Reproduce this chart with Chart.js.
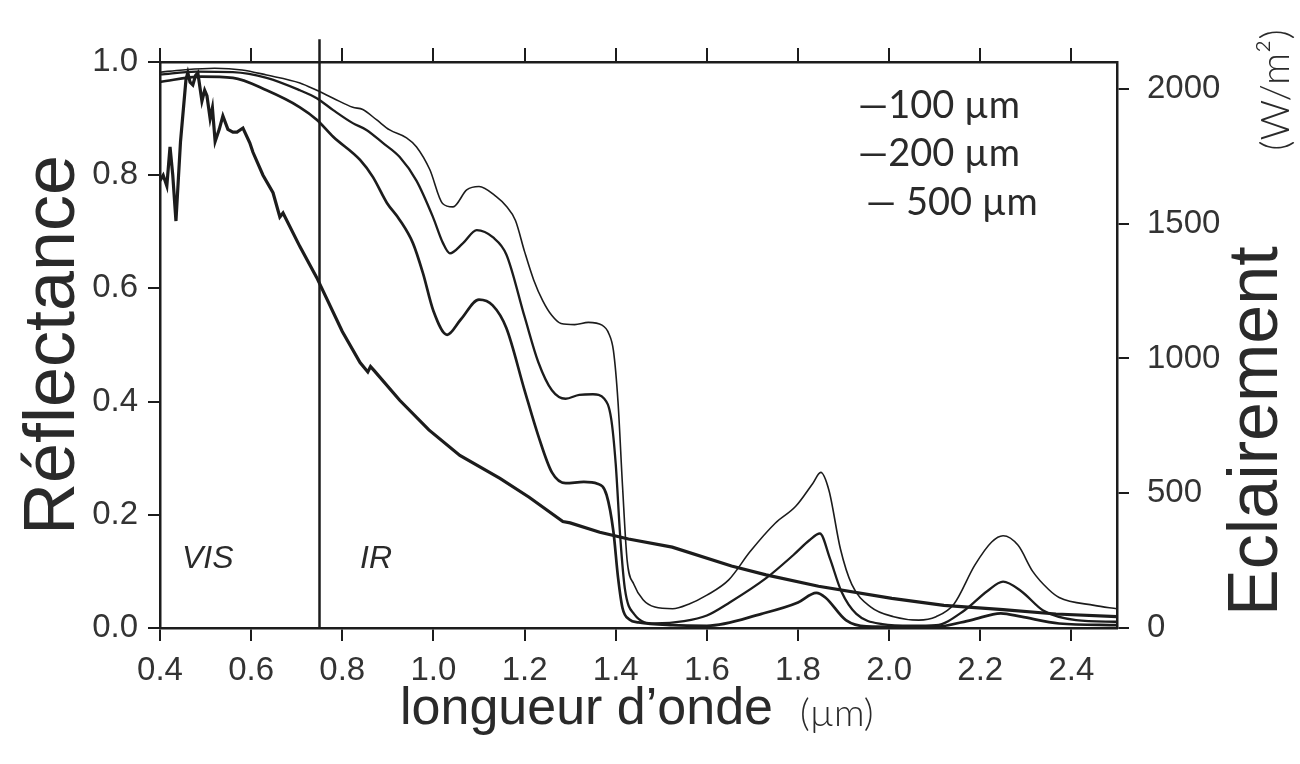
<!DOCTYPE html>
<html>
<head>
<meta charset="utf-8">
<style>
html,body{margin:0;padding:0;background:#fff;}
#wrap{width:1300px;height:764px;position:relative;}
</style>
<script src="https://cdn.jsdelivr.net/npm/chart.js@4.4.1/dist/chart.umd.min.js"></script>
</head>
<body>
<div id="wrap"><canvas id="c" width="1300" height="764"></canvas></div>
<script>
// ---------- data ----------
const xTicks = [0.4, 0.6, 0.8, 1.0, 1.2, 1.4, 1.6, 1.8, 2.0, 2.2, 2.4];
const yLeftTicks = [0, 0.2, 0.4, 0.6, 0.8, 1.0];
const yRightTicks = [0, 500, 1000, 1500, 2000];
const seriesNames = ['100 µm', '200 µm', '500 µm'];
const regionNames = ['VIS', 'IR'];
const boundaryX = 0.75;

const wl100 = [0.40,0.45,0.52,0.58,0.634,0.707,0.744,0.78,0.823,0.845,0.875,0.904,0.941,0.963,0.992,1.02,1.043,1.073,1.10,1.138,1.16,1.18,1.20,1.22,1.24,1.26,1.28,1.31,1.34,1.37,1.385,1.395,1.405,1.415,1.425,1.44,1.46,1.486,1.525,1.56,1.60,1.648,1.695,1.75,1.795,1.832,1.85,1.868,1.893,1.918,1.96,2.01,2.065,2.103,2.142,2.188,2.225,2.25,2.283,2.315,2.35,2.373,2.45,2.50];
const refl100 = [0.982,0.986,0.989,0.986,0.977,0.963,0.95,0.936,0.92,0.916,0.898,0.88,0.866,0.85,0.81,0.75,0.744,0.774,0.78,0.762,0.745,0.72,0.665,0.615,0.578,0.552,0.538,0.536,0.54,0.535,0.52,0.49,0.40,0.25,0.12,0.077,0.05,0.037,0.034,0.042,0.058,0.085,0.135,0.185,0.215,0.255,0.275,0.243,0.14,0.077,0.037,0.02,0.014,0.02,0.042,0.111,0.152,0.163,0.146,0.10,0.068,0.054,0.04,0.034];

const wl200 = [0.40,0.48,0.56,0.634,0.707,0.744,0.78,0.823,0.853,0.889,0.926,0.963,0.999,1.021,1.036,1.065,1.095,1.131,1.16,1.20,1.23,1.26,1.29,1.32,1.35,1.375,1.39,1.40,1.41,1.42,1.44,1.486,1.55,1.60,1.65,1.73,1.79,1.825,1.848,1.87,1.895,1.928,1.985,2.05,2.103,2.165,2.215,2.25,2.29,2.338,2.41,2.50];
const refl200 = [0.978,0.983,0.982,0.972,0.95,0.936,0.915,0.892,0.88,0.857,0.832,0.79,0.726,0.68,0.662,0.68,0.703,0.69,0.66,0.55,0.47,0.42,0.405,0.412,0.413,0.405,0.37,0.29,0.16,0.07,0.025,0.008,0.012,0.022,0.045,0.088,0.129,0.155,0.167,0.123,0.065,0.025,0.007,0.004,0.005,0.031,0.065,0.082,0.065,0.031,0.014,0.011];

const wl500 = [0.40,0.49,0.56,0.634,0.707,0.744,0.78,0.839,0.867,0.898,0.926,0.955,0.977,1.00,1.03,1.06,1.10,1.13,1.16,1.20,1.23,1.26,1.29,1.33,1.36,1.38,1.395,1.405,1.415,1.43,1.45,1.525,1.60,1.72,1.80,1.84,1.86,1.905,1.95,2.10,2.18,2.245,2.29,2.373,2.50];
const refl500 = [0.965,0.974,0.972,0.95,0.92,0.898,0.868,0.827,0.797,0.751,0.721,0.68,0.627,0.56,0.518,0.545,0.58,0.57,0.53,0.42,0.34,0.275,0.256,0.258,0.255,0.235,0.17,0.09,0.035,0.015,0.01,0.005,0.004,0.025,0.045,0.062,0.054,0.014,0.003,0.002,0.014,0.026,0.02,0.008,0.005];

const wlSun = [0.400,0.407,0.415,0.422,0.428,0.435,0.445,0.457,0.461,0.466,0.472,0.478,0.483,0.492,0.498,0.503,0.510,0.515,0.521,0.530,0.538,0.549,0.560,0.569,0.582,0.597,0.604,0.626,0.648,0.663,0.670,0.707,0.744,0.800,0.839,0.856,0.862,0.870,0.926,0.990,1.058,1.146,1.210,1.284,1.300,1.365,1.428,1.524,1.654,1.730,1.845,2.006,2.120,2.250,2.366,2.500];
const irrSun = [1660,1680,1640,1785,1680,1510,1805,2035,2060,2025,2015,2050,2060,1955,1995,1975,1890,1930,1805,1850,1900,1850,1840,1840,1855,1800,1765,1680,1615,1525,1540,1415,1300,1100,985,950,970,955,845,735,640,555,485,395,390,355,330,300,230,197,155,110,84,68,52,42];

// ---------- chart ----------
const INK = '#1c1c1c';
const FONT = '"Liberation Sans", Arial, sans-serif';
const HAND = 'Lato, sans-serif';
const pts = (xs, ys) => xs.map((x, i) => ({x: x, y: ys[i]}));

const textPlugin = {
  id: 'texts',
  afterDraw(chart) {
    const ctx = chart.ctx;
    ctx.save();
    ctx.fillStyle = '#2a2a2a';
    // left title
    ctx.save();
    ctx.translate(54, (chart.chartArea.top + chart.chartArea.bottom) / 2);
    ctx.rotate(-Math.PI / 2);
    ctx.font = '72px ' + FONT;
    ctx.textAlign = 'center';
    ctx.textBaseline = 'middle';
    ctx.fillText('Réflectance', 0, 0);
    ctx.restore();
    // right title
    ctx.save();
    ctx.translate(1258, 616);
    ctx.rotate(-Math.PI / 2);
    ctx.font = '70px ' + FONT;
    ctx.textAlign = 'left';
    ctx.textBaseline = 'middle';
    ctx.fillText('Eclairement', 0, 0);
    ctx.restore();
    ctx.save();
    ctx.translate(1276, 90);
    ctx.rotate(-Math.PI / 2);
    ctx.font = '300 40px ' + HAND;
    ctx.textAlign = 'center';
    ctx.textBaseline = 'middle';
    ctx.fillText('(W/m²)', 0, 0);
    ctx.restore();
    // x title
    ctx.font = '52px ' + FONT;
    ctx.textAlign = 'left';
    ctx.textBaseline = 'alphabetic';
    ctx.fillText('longueur d’onde', 400, 724);
    ctx.font = '300 38px ' + HAND;
    ctx.fillText('(µm)', 800, 726);
    // legend (handwritten style)
    ctx.font = '38px ' + HAND;
    const legY = [118, 166, 215];
    const legX = [858, 858, 866];
    seriesNames.forEach((n, i) => {
      ctx.fillText('—' + (i === 2 ? ' ' : '') + n, legX[i], legY[i]);
    });
    // region labels
    ctx.font = 'italic 32px ' + FONT;
    ctx.fillText(regionNames[0], 182, 568);
    ctx.fillText(regionNames[1], 360, 568);
    ctx.restore();
  }
};

const tickFont = {family: FONT, size: 33};
const gridCommon = {drawOnChartArea: false, drawTicks: true, color: INK, lineWidth: 2};
const borderCommon = {display: true, color: INK, width: 2.5};

new Chart(document.getElementById('c'), {
  type: 'line',
  data: {
    datasets: [
      {label: seriesNames[0], data: pts(wl100, refl100), borderColor: INK, borderWidth: 1.6, pointRadius: 0, cubicInterpolationMode: 'monotone', xAxisID: 'x', yAxisID: 'y'},
      {label: seriesNames[1], data: pts(wl200, refl200), borderColor: INK, borderWidth: 2.3, pointRadius: 0, cubicInterpolationMode: 'monotone', xAxisID: 'x', yAxisID: 'y'},
      {label: seriesNames[2], data: pts(wl500, refl500), borderColor: INK, borderWidth: 2.7, pointRadius: 0, cubicInterpolationMode: 'monotone', xAxisID: 'x', yAxisID: 'y'},
      {label: 'Eclairement', data: pts(wlSun, irrSun), borderColor: INK, borderWidth: 3.2, pointRadius: 0, tension: 0, xAxisID: 'x', yAxisID: 'yR'},
      {label: 'VIS/IR', data: [{x: boundaryX, y: 0}, {x: boundaryX, y: 1.04}], borderColor: INK, borderWidth: 2.5, pointRadius: 0, clip: false, xAxisID: 'x', yAxisID: 'y'}
    ]
  },
  options: {
    responsive: false,
    animation: false,
    devicePixelRatio: 1,
    layout: {padding: 0},
    plugins: {legend: {display: false}, tooltip: {enabled: false}, title: {display: false}},
    scales: {
      x: {
        type: 'linear', position: 'bottom', min: 0.4, max: 2.5,
        afterBuildTicks: s => { s.ticks = xTicks.map(v => ({value: v})); },
        afterFit: s => { s.height = 136; },
        ticks: {callback: v => Number(v).toFixed(1), font: tickFont, color: '#333', padding: 10, maxRotation: 0, autoSkip: false},
        grid: Object.assign({tickLength: 13}, gridCommon),
        border: borderCommon
      },
      xTop: {
        type: 'linear', position: 'top', min: 0.4, max: 2.5,
        afterBuildTicks: s => { s.ticks = xTicks.map(v => ({value: v})); },
        afterFit: s => { s.height = 62; },
        ticks: {display: false},
        grid: Object.assign({tickLength: 14}, gridCommon),
        border: borderCommon
      },
      y: {
        type: 'linear', position: 'left', min: 0, max: 1.0,
        afterBuildTicks: s => { s.ticks = yLeftTicks.map(v => ({value: v})); },
        afterFit: s => { s.width = 160; },
        ticks: {callback: v => Number(v).toFixed(1), font: tickFont, color: '#333', padding: 10},
        grid: Object.assign({tickLength: 12}, gridCommon),
        border: borderCommon
      },
      yR: {
        type: 'linear', position: 'right', min: 0, max: 2100,
        afterBuildTicks: s => { s.ticks = yRightTicks.map(v => ({value: v})); },
        afterFit: s => { s.width = 183; },
        ticks: {callback: v => String(v), font: tickFont, color: '#333', padding: 18},
        grid: Object.assign({tickLength: 12}, gridCommon),
        border: borderCommon
      }
    }
  },
  plugins: [textPlugin]
});
</script>
</body>
</html>
